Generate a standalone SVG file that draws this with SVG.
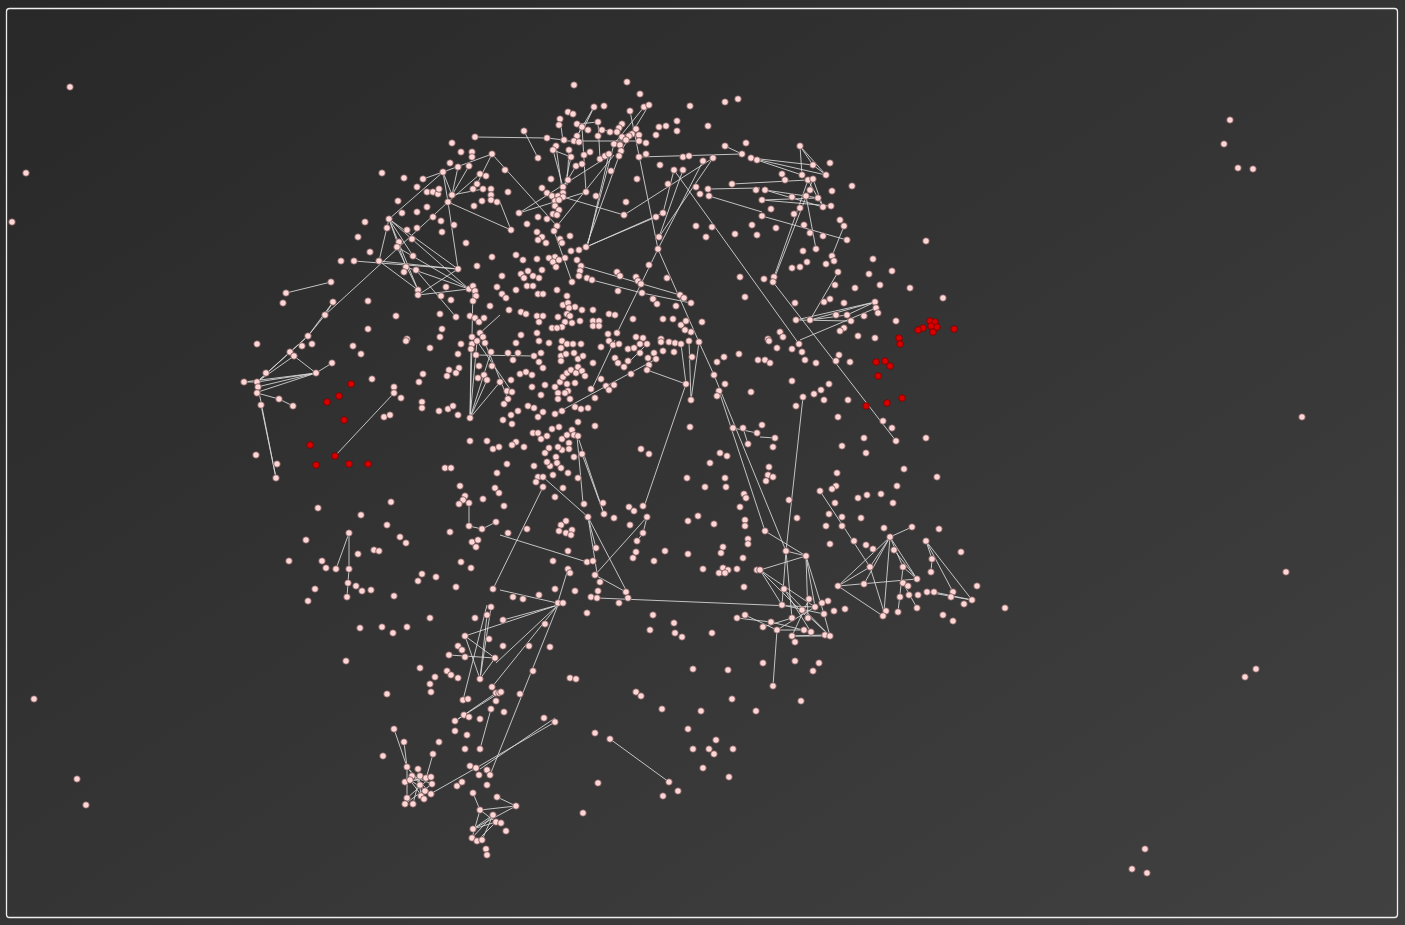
<svg xmlns="http://www.w3.org/2000/svg" width="1405" height="925" viewBox="0 0 1405 925">
<defs>
<linearGradient id="bg" x1="0" y1="0" x2="1" y2="1">
<stop offset="0" stop-color="#282828"/>
<stop offset="1" stop-color="#414141"/>
</linearGradient>
<style>
#nodes circle{r:3.3px;fill:#ffd6d6;stroke:#6b4b4b;stroke-width:0.8}
#nodes .r circle{fill:#d60000;stroke:#7a0000}
#edges line{stroke:#dcdcdc;stroke-width:1;stroke-opacity:0.85}
</style>
</defs>
<rect x="0" y="0" width="1405" height="925" fill="url(#bg)"/>
<rect x="6.5" y="8.5" width="1391" height="909" rx="3" fill="none" stroke="#eeeeee" stroke-width="1.3"/>
<g id="edges">
<line x1="475" y1="137" x2="547" y2="138"/><line x1="547" y1="138" x2="564" y2="140"/><line x1="563" y1="141" x2="640" y2="141"/>
<line x1="492" y1="154" x2="443" y2="172"/><line x1="492" y1="154" x2="477" y2="184"/><line x1="443" y1="172" x2="423" y2="179"/>
<line x1="443" y1="172" x2="389" y2="219"/><line x1="443" y1="172" x2="452" y2="195"/><line x1="443" y1="172" x2="448" y2="202"/>
<line x1="458" y1="167" x2="452" y2="195"/><line x1="469" y1="166" x2="452" y2="195"/><line x1="452" y1="195" x2="483" y2="189"/>
<line x1="448" y1="202" x2="480" y2="174"/><line x1="448" y1="202" x2="511" y2="230"/><line x1="448" y1="202" x2="458" y2="269"/>
<line x1="448" y1="202" x2="325" y2="315"/><line x1="325" y1="315" x2="308" y2="336"/><line x1="333" y1="302" x2="325" y2="315"/>
<line x1="333" y1="302" x2="308" y2="336"/><line x1="286" y1="293" x2="331" y2="282"/><line x1="389" y1="219" x2="458" y2="269"/>
<line x1="389" y1="219" x2="469" y2="289"/><line x1="389" y1="219" x2="418" y2="290"/><line x1="389" y1="219" x2="379" y2="261"/>
<line x1="389" y1="219" x2="406" y2="267"/><line x1="389" y1="219" x2="413" y2="256"/><line x1="379" y1="261" x2="458" y2="269"/>
<line x1="354" y1="261" x2="458" y2="269"/><line x1="379" y1="261" x2="418" y2="290"/><line x1="418" y1="295" x2="469" y2="289"/>
<line x1="458" y1="269" x2="418" y2="295"/><line x1="406" y1="267" x2="469" y2="289"/><line x1="397" y1="247" x2="469" y2="289"/>
<line x1="397" y1="247" x2="418" y2="290"/><line x1="416" y1="270" x2="456" y2="317"/><line x1="473" y1="286" x2="472" y2="337"/>
<line x1="480" y1="333" x2="500" y2="315"/><line x1="492" y1="154" x2="557" y2="226"/>
<line x1="294" y1="356" x2="316" y2="373"/><line x1="316" y1="373" x2="332" y2="363"/><line x1="257" y1="382" x2="294" y2="356"/>
<line x1="257" y1="382" x2="290" y2="352"/><line x1="244" y1="382" x2="316" y2="373"/><line x1="257" y1="387" x2="316" y2="373"/>
<line x1="258" y1="392" x2="316" y2="373"/><line x1="257" y1="382" x2="316" y2="373"/><line x1="257" y1="393" x2="279" y2="399"/>
<line x1="279" y1="399" x2="293" y2="406"/><line x1="258" y1="387" x2="276" y2="478"/><line x1="261" y1="405" x2="276" y2="478"/>
<line x1="244" y1="382" x2="257" y2="382"/><line x1="308" y1="336" x2="290" y2="352"/><line x1="308" y1="336" x2="257" y2="382"/>
<line x1="394" y1="393" x2="335" y2="456"/>
<line x1="471" y1="349" x2="470" y2="418"/><line x1="472" y1="344" x2="470" y2="418"/><line x1="477" y1="341" x2="470" y2="418"/>
<line x1="470" y1="418" x2="500" y2="382"/><line x1="470" y1="418" x2="491" y2="352"/><line x1="470" y1="418" x2="487" y2="380"/>
<line x1="477" y1="341" x2="512" y2="392"/><line x1="485" y1="343" x2="508" y2="399"/><line x1="476" y1="355" x2="534" y2="356"/>
<line x1="469" y1="526" x2="469" y2="503"/><line x1="469" y1="526" x2="482" y2="529"/><line x1="482" y1="529" x2="496" y2="522"/>
<line x1="349" y1="533" x2="336" y2="569"/><line x1="349" y1="533" x2="349" y2="569"/><line x1="349" y1="569" x2="348" y2="583"/>
<line x1="348" y1="583" x2="347" y2="597"/>
<line x1="524" y1="131" x2="538" y2="158"/><line x1="594" y1="107" x2="583" y2="130"/><line x1="577" y1="124" x2="598" y2="122"/>
<line x1="582" y1="127" x2="586" y2="192"/><line x1="553" y1="150" x2="571" y2="157"/><line x1="553" y1="150" x2="563" y2="187"/>
<line x1="556" y1="146" x2="563" y2="197"/><line x1="569" y1="150" x2="567" y2="185"/><line x1="571" y1="157" x2="563" y2="193"/>
<line x1="576" y1="166" x2="558" y2="196"/><line x1="598" y1="122" x2="600" y2="159"/><line x1="644" y1="107" x2="614" y2="144"/>
<line x1="649" y1="105" x2="621" y2="151"/><line x1="619" y1="156" x2="586" y2="247"/><line x1="614" y1="144" x2="588" y2="243"/>
<line x1="609" y1="154" x2="587" y2="248"/><line x1="614" y1="155" x2="557" y2="226"/><line x1="612" y1="154" x2="519" y2="213"/>
<line x1="630" y1="111" x2="658" y2="249"/><line x1="658" y1="249" x2="699" y2="342"/><line x1="658" y1="249" x2="617" y2="333"/>
<line x1="639" y1="157" x2="742" y2="154"/><line x1="725" y1="146" x2="742" y2="154"/><line x1="713" y1="158" x2="659" y2="237"/>
<line x1="703" y1="161" x2="658" y2="249"/><line x1="624" y1="215" x2="713" y2="158"/><line x1="674" y1="170" x2="663" y2="213"/>
<line x1="683" y1="170" x2="659" y2="237"/><line x1="674" y1="170" x2="799" y2="344"/><line x1="708" y1="189" x2="760" y2="188"/>
<line x1="709" y1="196" x2="762" y2="212"/><line x1="586" y1="247" x2="656" y2="217"/><line x1="586" y1="247" x2="663" y2="213"/>
<line x1="500" y1="202" x2="511" y2="230"/><line x1="519" y1="213" x2="586" y2="192"/><line x1="563" y1="197" x2="624" y2="215"/>
<line x1="581" y1="266" x2="680" y2="295"/><line x1="592" y1="280" x2="642" y2="293"/><line x1="642" y1="293" x2="691" y2="303"/>
<line x1="572" y1="282" x2="554" y2="231"/><line x1="594" y1="107" x2="577" y2="136"/><line x1="560" y1="119" x2="563" y2="141"/>
<line x1="582" y1="127" x2="577" y2="136"/><line x1="602" y1="130" x2="617" y2="132"/><line x1="636" y1="129" x2="622" y2="137"/>
<line x1="800" y1="146" x2="802" y2="175"/><line x1="800" y1="146" x2="826" y2="175"/><line x1="800" y1="146" x2="813" y2="165"/>
<line x1="813" y1="165" x2="826" y2="175"/><line x1="751" y1="158" x2="813" y2="165"/><line x1="751" y1="158" x2="826" y2="175"/>
<line x1="757" y1="160" x2="802" y2="175"/><line x1="732" y1="184" x2="808" y2="180"/><line x1="765" y1="190" x2="806" y2="196"/>
<line x1="765" y1="190" x2="823" y2="207"/><line x1="762" y1="200" x2="818" y2="198"/><line x1="762" y1="200" x2="831" y2="206"/>
<line x1="808" y1="180" x2="823" y2="207"/><line x1="813" y1="179" x2="823" y2="207"/><line x1="806" y1="196" x2="818" y2="198"/>
<line x1="808" y1="180" x2="774" y2="277"/><line x1="813" y1="179" x2="773" y2="282"/><line x1="806" y1="196" x2="816" y2="249"/>
<line x1="762" y1="216" x2="847" y2="240"/><line x1="844" y1="226" x2="832" y2="256"/><line x1="838" y1="272" x2="810" y2="320"/>
<line x1="875" y1="302" x2="796" y2="320"/><line x1="875" y1="302" x2="810" y2="320"/><line x1="875" y1="302" x2="847" y2="315"/>
<line x1="796" y1="320" x2="851" y2="321"/><line x1="810" y1="320" x2="847" y2="315"/><line x1="876" y1="308" x2="800" y2="340"/>
<line x1="773" y1="282" x2="896" y2="441"/>
<line x1="699" y1="342" x2="691" y2="400"/><line x1="689" y1="341" x2="691" y2="400"/><line x1="686" y1="384" x2="644" y2="507"/>
<line x1="647" y1="370" x2="686" y2="384"/><line x1="681" y1="344" x2="686" y2="384"/><line x1="699" y1="342" x2="714" y2="375"/>
<line x1="714" y1="375" x2="786" y2="551"/><line x1="719" y1="391" x2="765" y2="531"/><line x1="733" y1="428" x2="757" y2="433"/>
<line x1="743" y1="428" x2="748" y2="444"/><line x1="615" y1="340" x2="592" y2="389"/><line x1="656" y1="359" x2="555" y2="414"/>
<line x1="647" y1="344" x2="624" y2="367"/><line x1="543" y1="477" x2="588" y2="517"/><line x1="588" y1="517" x2="596" y2="548"/>
<line x1="577" y1="436" x2="583" y2="503"/><line x1="579" y1="440" x2="604" y2="514"/><line x1="582" y1="454" x2="604" y2="514"/>
<line x1="543" y1="487" x2="493" y2="589"/><line x1="588" y1="517" x2="597" y2="573"/><line x1="588" y1="517" x2="627" y2="592"/>
<line x1="647" y1="517" x2="595" y2="575"/><line x1="595" y1="575" x2="626" y2="592"/><line x1="500" y1="535" x2="587" y2="562"/>
<line x1="568" y1="569" x2="557" y2="605"/><line x1="500" y1="590" x2="557" y2="603"/><line x1="597" y1="598" x2="815" y2="607"/>
<line x1="637" y1="541" x2="643" y2="533"/><line x1="643" y1="533" x2="647" y2="517"/>
<line x1="803" y1="397" x2="786" y2="551"/><line x1="820" y1="491" x2="870" y2="567"/><line x1="890" y1="537" x2="912" y2="527"/>
<line x1="890" y1="537" x2="838" y2="586"/><line x1="890" y1="537" x2="864" y2="584"/><line x1="890" y1="537" x2="870" y2="567"/>
<line x1="890" y1="537" x2="917" y2="579"/><line x1="890" y1="537" x2="903" y2="567"/><line x1="890" y1="537" x2="884" y2="612"/>
<line x1="838" y1="586" x2="917" y2="579"/><line x1="838" y1="586" x2="870" y2="567"/><line x1="838" y1="586" x2="883" y2="616"/>
<line x1="903" y1="567" x2="917" y2="579"/><line x1="894" y1="550" x2="917" y2="579"/><line x1="926" y1="541" x2="932" y2="559"/>
<line x1="932" y1="559" x2="931" y2="572"/><line x1="926" y1="541" x2="972" y2="600"/><line x1="926" y1="541" x2="953" y2="592"/>
<line x1="927" y1="592" x2="972" y2="600"/><line x1="934" y1="592" x2="972" y2="600"/><line x1="765" y1="531" x2="806" y2="556"/>
<line x1="786" y1="551" x2="806" y2="556"/><line x1="760" y1="437" x2="775" y2="438"/><line x1="903" y1="583" x2="917" y2="608"/>
<line x1="870" y1="567" x2="884" y2="612"/><line x1="903" y1="567" x2="898" y2="612"/>
<line x1="760" y1="570" x2="806" y2="556"/><line x1="760" y1="570" x2="782" y2="605"/><line x1="760" y1="570" x2="808" y2="618"/>
<line x1="760" y1="570" x2="815" y2="607"/><line x1="806" y1="556" x2="815" y2="607"/><line x1="806" y1="556" x2="808" y2="618"/>
<line x1="806" y1="556" x2="824" y2="614"/><line x1="786" y1="551" x2="792" y2="618"/><line x1="786" y1="551" x2="782" y2="605"/>
<line x1="782" y1="605" x2="824" y2="614"/><line x1="771" y1="622" x2="811" y2="632"/><line x1="763" y1="627" x2="792" y2="618"/>
<line x1="777" y1="630" x2="773" y2="686"/><line x1="777" y1="630" x2="804" y2="630"/><line x1="792" y1="636" x2="825" y2="635"/>
<line x1="792" y1="636" x2="830" y2="636"/><line x1="802" y1="610" x2="830" y2="636"/><line x1="815" y1="607" x2="777" y2="630"/>
<line x1="784" y1="589" x2="830" y2="636"/><line x1="784" y1="589" x2="811" y2="632"/><line x1="809" y1="599" x2="792" y2="636"/>
<line x1="737" y1="618" x2="771" y2="622"/><line x1="745" y1="615" x2="777" y2="630"/><line x1="824" y1="614" x2="830" y2="636"/>
<line x1="394" y1="729" x2="407" y2="767"/><line x1="404" y1="742" x2="407" y2="767"/><line x1="433" y1="754" x2="427" y2="775"/>
<line x1="432" y1="793" x2="476" y2="768"/><line x1="476" y1="768" x2="555" y2="722"/><line x1="480" y1="769" x2="555" y2="718"/>
<line x1="558" y1="605" x2="490" y2="775"/><line x1="465" y1="636" x2="480" y2="679"/><line x1="465" y1="636" x2="495" y2="658"/>
<line x1="465" y1="636" x2="558" y2="605"/><line x1="449" y1="655" x2="495" y2="658"/><line x1="495" y1="658" x2="480" y2="679"/>
<line x1="487" y1="615" x2="480" y2="679"/><line x1="491" y1="607" x2="480" y2="679"/><line x1="558" y1="605" x2="496" y2="663"/>
<line x1="558" y1="605" x2="492" y2="687"/><line x1="455" y1="721" x2="499" y2="693"/><line x1="458" y1="719" x2="496" y2="693"/>
<line x1="463" y1="700" x2="487" y2="605"/><line x1="491" y1="709" x2="480" y2="749"/><line x1="473" y1="793" x2="480" y2="810"/>
<line x1="480" y1="810" x2="472" y2="838"/><line x1="480" y1="810" x2="516" y2="806"/><line x1="473" y1="829" x2="516" y2="806"/>
<line x1="480" y1="810" x2="496" y2="822"/><line x1="493" y1="815" x2="472" y2="838"/><line x1="496" y1="822" x2="477" y2="841"/>
<line x1="473" y1="829" x2="493" y2="815"/><line x1="482" y1="840" x2="493" y2="815"/><line x1="473" y1="829" x2="496" y2="822"/>
<line x1="516" y1="806" x2="497" y2="797"/><line x1="558" y1="605" x2="503" y2="620"/><line x1="610" y1="739" x2="669" y2="782"/>
<line x1="407" y1="767" x2="431" y2="794"/><line x1="407" y1="767" x2="425" y2="791"/><line x1="412" y1="776" x2="432" y2="784"/>
<line x1="405" y1="782" x2="431" y2="777"/><line x1="410" y1="780" x2="424" y2="799"/><line x1="407" y1="767" x2="407" y2="798"/>
<line x1="405" y1="782" x2="426" y2="778"/><line x1="407" y1="798" x2="431" y2="777"/><line x1="413" y1="804" x2="420" y2="776"/>
<line x1="405" y1="804" x2="432" y2="784"/><line x1="418" y1="769" x2="421" y2="796"/><line x1="410" y1="780" x2="431" y2="794"/>
</g>
<g id="nodes">
<g id="n1"><circle cx="70" cy="87"/></g><g id="n2"><circle cx="26" cy="173"/></g><g id="n3"><circle cx="12" cy="222"/></g>
<g id="n4"><circle cx="34" cy="699"/></g><g id="n5"><circle cx="77" cy="779"/></g><g id="n6"><circle cx="86" cy="805"/></g>
<g id="n7"><circle cx="1230" cy="120"/></g><g id="n8"><circle cx="1224" cy="144"/></g><g id="n9"><circle cx="1238" cy="168"/></g>
<g id="n10"><circle cx="1253" cy="169"/></g><g id="n11"><circle cx="1302" cy="417"/></g><g id="n12"><circle cx="1286" cy="572"/></g>
<g id="n13"><circle cx="1256" cy="669"/></g><g id="n14"><circle cx="1245" cy="677"/></g><g id="n15"><circle cx="1145" cy="849"/></g>
<g id="n16"><circle cx="1132" cy="869"/></g><g id="n17"><circle cx="1147" cy="873"/></g>
<g id="n18"><circle cx="475" cy="137"/></g><g id="n19"><circle cx="452" cy="143"/></g><g id="n20"><circle cx="492" cy="154"/></g>
<g id="n21"><circle cx="461" cy="152"/></g><g id="n22"><circle cx="472" cy="152"/></g><g id="n23"><circle cx="472" cy="157"/></g>
<g id="n24"><circle cx="450" cy="163"/></g><g id="n25"><circle cx="469" cy="166"/></g><g id="n26"><circle cx="458" cy="167"/></g>
<g id="n27"><circle cx="382" cy="173"/></g><g id="n28"><circle cx="404" cy="178"/></g><g id="n29"><circle cx="423" cy="179"/></g>
<g id="n30"><circle cx="443" cy="172"/></g><g id="n31"><circle cx="480" cy="174"/></g><g id="n32"><circle cx="486" cy="176"/></g>
<g id="n33"><circle cx="477" cy="184"/></g><g id="n34"><circle cx="473" cy="189"/></g><g id="n35"><circle cx="483" cy="189"/></g>
<g id="n36"><circle cx="491" cy="189"/></g><g id="n37"><circle cx="491" cy="195"/></g><g id="n38"><circle cx="491" cy="200"/></g>
<g id="n39"><circle cx="497" cy="202"/></g><g id="n40"><circle cx="482" cy="201"/></g><g id="n41"><circle cx="474" cy="206"/></g>
<g id="n42"><circle cx="417" cy="187"/></g><g id="n43"><circle cx="427" cy="192"/></g><g id="n44"><circle cx="433" cy="192"/></g>
<g id="n45"><circle cx="438" cy="194"/></g><g id="n46"><circle cx="439" cy="189"/></g><g id="n47"><circle cx="452" cy="195"/></g>
<g id="n48"><circle cx="448" cy="202"/></g><g id="n49"><circle cx="398" cy="201"/></g><g id="n50"><circle cx="402" cy="213"/></g>
<g id="n51"><circle cx="417" cy="212"/></g><g id="n52"><circle cx="427" cy="207"/></g><g id="n53"><circle cx="433" cy="217"/></g>
<g id="n54"><circle cx="441" cy="221"/></g><g id="n55"><circle cx="442" cy="232"/></g><g id="n56"><circle cx="454" cy="225"/></g>
<g id="n57"><circle cx="389" cy="219"/></g><g id="n58"><circle cx="387" cy="228"/></g><g id="n59"><circle cx="365" cy="222"/></g>
<g id="n60"><circle cx="358" cy="237"/></g><g id="n61"><circle cx="407" cy="230"/></g><g id="n62"><circle cx="417" cy="228"/></g>
<g id="n63"><circle cx="412" cy="239"/></g><g id="n64"><circle cx="399" cy="242"/></g><g id="n65"><circle cx="397" cy="247"/></g>
<g id="n66"><circle cx="370" cy="252"/></g><g id="n67"><circle cx="413" cy="256"/></g><g id="n68"><circle cx="466" cy="243"/></g>
<g id="n69"><circle cx="492" cy="257"/></g><g id="n70"><circle cx="477" cy="266"/></g><g id="n71"><circle cx="341" cy="261"/></g>
<g id="n72"><circle cx="354" cy="261"/></g><g id="n73"><circle cx="379" cy="261"/></g><g id="n74"><circle cx="406" cy="267"/></g>
<g id="n75"><circle cx="404" cy="272"/></g><g id="n76"><circle cx="416" cy="270"/></g><g id="n77"><circle cx="458" cy="269"/></g>
<g id="n78"><circle cx="469" cy="289"/></g><g id="n79"><circle cx="473" cy="286"/></g><g id="n80"><circle cx="475" cy="291"/></g>
<g id="n81"><circle cx="476" cy="296"/></g><g id="n82"><circle cx="473" cy="301"/></g><g id="n83"><circle cx="446" cy="287"/></g>
<g id="n84"><circle cx="418" cy="290"/></g><g id="n85"><circle cx="418" cy="295"/></g><g id="n86"><circle cx="441" cy="296"/></g>
<g id="n87"><circle cx="451" cy="300"/></g><g id="n88"><circle cx="497" cy="287"/></g><g id="n89"><circle cx="331" cy="282"/></g>
<g id="n90"><circle cx="286" cy="293"/></g><g id="n91"><circle cx="283" cy="303"/></g><g id="n92"><circle cx="333" cy="302"/></g>
<g id="n93"><circle cx="325" cy="315"/></g><g id="n94"><circle cx="308" cy="336"/></g><g id="n95"><circle cx="368" cy="301"/></g>
<g id="n96"><circle cx="396" cy="316"/></g><g id="n97"><circle cx="368" cy="329"/></g><g id="n98"><circle cx="440" cy="314"/></g>
<g id="n99"><circle cx="456" cy="317"/></g><g id="n100"><circle cx="470" cy="316"/></g><g id="n101"><circle cx="475" cy="318"/></g>
<g id="n102"><circle cx="479" cy="322"/></g><g id="n103"><circle cx="484" cy="318"/></g><g id="n104"><circle cx="490" cy="306"/></g>
<g id="n105"><circle cx="480" cy="333"/></g><g id="n106"><circle cx="483" cy="337"/></g><g id="n107"><circle cx="472" cy="337"/></g>
<g id="n108"><circle cx="442" cy="329"/></g><g id="n109"><circle cx="440" cy="337"/></g><g id="n110"><circle cx="407" cy="339"/></g>
<g id="n111"><circle cx="574" cy="85"/></g><g id="n112"><circle cx="627" cy="82"/></g><g id="n113"><circle cx="640" cy="94"/></g>
<g id="n114"><circle cx="594" cy="107"/></g><g id="n115"><circle cx="604" cy="106"/></g><g id="n116"><circle cx="630" cy="111"/></g>
<g id="n117"><circle cx="644" cy="107"/></g><g id="n118"><circle cx="649" cy="105"/></g><g id="n119"><circle cx="690" cy="106"/></g>
<g id="n120"><circle cx="725" cy="102"/></g><g id="n121"><circle cx="738" cy="99"/></g><g id="n122"><circle cx="568" cy="112"/></g>
<g id="n123"><circle cx="573" cy="114"/></g><g id="n124"><circle cx="560" cy="119"/></g><g id="n125"><circle cx="559" cy="125"/></g>
<g id="n126"><circle cx="577" cy="124"/></g><g id="n127"><circle cx="582" cy="127"/></g><g id="n128"><circle cx="598" cy="122"/></g>
<g id="n129"><circle cx="622" cy="124"/></g><g id="n130"><circle cx="619" cy="128"/></g><g id="n131"><circle cx="636" cy="129"/></g>
<g id="n132"><circle cx="632" cy="134"/></g><g id="n133"><circle cx="524" cy="131"/></g><g id="n134"><circle cx="547" cy="138"/></g>
<g id="n135"><circle cx="564" cy="140"/></g><g id="n136"><circle cx="577" cy="136"/></g><g id="n137"><circle cx="574" cy="141"/></g>
<g id="n138"><circle cx="579" cy="142"/></g><g id="n139"><circle cx="588" cy="130"/></g><g id="n140"><circle cx="602" cy="130"/></g>
<g id="n141"><circle cx="598" cy="136"/></g><g id="n142"><circle cx="610" cy="132"/></g><g id="n143"><circle cx="617" cy="132"/></g>
<g id="n144"><circle cx="622" cy="137"/></g><g id="n145"><circle cx="629" cy="136"/></g><g id="n146"><circle cx="639" cy="135"/></g>
<g id="n147"><circle cx="639" cy="141"/></g><g id="n148"><circle cx="646" cy="143"/></g><g id="n149"><circle cx="659" cy="127"/></g>
<g id="n150"><circle cx="666" cy="126"/></g><g id="n151"><circle cx="677" cy="121"/></g><g id="n152"><circle cx="677" cy="131"/></g>
<g id="n153"><circle cx="656" cy="135"/></g><g id="n154"><circle cx="708" cy="126"/></g><g id="n155"><circle cx="556" cy="146"/></g>
<g id="n156"><circle cx="553" cy="150"/></g><g id="n157"><circle cx="569" cy="150"/></g><g id="n158"><circle cx="571" cy="157"/></g>
<g id="n159"><circle cx="584" cy="155"/></g><g id="n160"><circle cx="590" cy="152"/></g><g id="n161"><circle cx="600" cy="159"/></g>
<g id="n162"><circle cx="605" cy="156"/></g><g id="n163"><circle cx="609" cy="154"/></g><g id="n164"><circle cx="614" cy="144"/></g>
<g id="n165"><circle cx="620" cy="145"/></g><g id="n166"><circle cx="621" cy="151"/></g><g id="n167"><circle cx="626" cy="140"/></g>
<g id="n168"><circle cx="619" cy="156"/></g><g id="n169"><circle cx="639" cy="157"/></g><g id="n170"><circle cx="646" cy="154"/></g>
<g id="n171"><circle cx="538" cy="158"/></g><g id="n172"><circle cx="576" cy="166"/></g><g id="n173"><circle cx="582" cy="164"/></g>
<g id="n174"><circle cx="611" cy="171"/></g><g id="n175"><circle cx="725" cy="146"/></g><g id="n176"><circle cx="746" cy="143"/></g>
<g id="n177"><circle cx="742" cy="154"/></g><g id="n178"><circle cx="751" cy="158"/></g><g id="n179"><circle cx="757" cy="160"/></g>
<g id="n180"><circle cx="683" cy="157"/></g><g id="n181"><circle cx="689" cy="156"/></g><g id="n182"><circle cx="703" cy="161"/></g>
<g id="n183"><circle cx="713" cy="158"/></g><g id="n184"><circle cx="660" cy="165"/></g><g id="n185"><circle cx="674" cy="170"/></g>
<g id="n186"><circle cx="683" cy="170"/></g><g id="n187"><circle cx="505" cy="170"/></g><g id="n188"><circle cx="637" cy="179"/></g>
<g id="n189"><circle cx="568" cy="180"/></g><g id="n190"><circle cx="551" cy="179"/></g><g id="n191"><circle cx="668" cy="184"/></g>
<g id="n192"><circle cx="732" cy="184"/></g><g id="n193"><circle cx="756" cy="190"/></g><g id="n194"><circle cx="696" cy="187"/></g>
<g id="n195"><circle cx="708" cy="189"/></g><g id="n196"><circle cx="700" cy="194"/></g><g id="n197"><circle cx="709" cy="196"/></g>
<g id="n198"><circle cx="542" cy="188"/></g><g id="n199"><circle cx="563" cy="187"/></g><g id="n200"><circle cx="563" cy="193"/></g>
<g id="n201"><circle cx="547" cy="193"/></g><g id="n202"><circle cx="552" cy="196"/></g><g id="n203"><circle cx="558" cy="196"/></g>
<g id="n204"><circle cx="563" cy="197"/></g><g id="n205"><circle cx="586" cy="192"/></g><g id="n206"><circle cx="596" cy="196"/></g>
<g id="n207"><circle cx="508" cy="192"/></g><g id="n208"><circle cx="555" cy="201"/></g><g id="n209"><circle cx="559" cy="200"/></g>
<g id="n210"><circle cx="555" cy="206"/></g><g id="n211"><circle cx="559" cy="210"/></g><g id="n212"><circle cx="553" cy="214"/></g>
<g id="n213"><circle cx="557" cy="215"/></g><g id="n214"><circle cx="519" cy="213"/></g><g id="n215"><circle cx="527" cy="224"/></g>
<g id="n216"><circle cx="538" cy="217"/></g><g id="n217"><circle cx="547" cy="219"/></g><g id="n218"><circle cx="557" cy="226"/></g>
<g id="n219"><circle cx="554" cy="231"/></g><g id="n220"><circle cx="537" cy="232"/></g><g id="n221"><circle cx="542" cy="237"/></g>
<g id="n222"><circle cx="538" cy="240"/></g><g id="n223"><circle cx="546" cy="243"/></g><g id="n224"><circle cx="560" cy="239"/></g>
<g id="n225"><circle cx="562" cy="243"/></g><g id="n226"><circle cx="570" cy="236"/></g><g id="n227"><circle cx="511" cy="230"/></g>
<g id="n228"><circle cx="624" cy="215"/></g><g id="n229"><circle cx="626" cy="202"/></g><g id="n230"><circle cx="656" cy="217"/></g>
<g id="n231"><circle cx="663" cy="213"/></g><g id="n232"><circle cx="659" cy="237"/></g><g id="n233"><circle cx="658" cy="249"/></g>
<g id="n234"><circle cx="696" cy="226"/></g><g id="n235"><circle cx="712" cy="227"/></g><g id="n236"><circle cx="706" cy="237"/></g>
<g id="n237"><circle cx="735" cy="234"/></g><g id="n238"><circle cx="752" cy="225"/></g><g id="n239"><circle cx="757" cy="235"/></g>
<g id="n240"><circle cx="740" cy="277"/></g><g id="n241"><circle cx="745" cy="297"/></g><g id="n242"><circle cx="586" cy="247"/></g>
<g id="n243"><circle cx="579" cy="250"/></g><g id="n244"><circle cx="571" cy="251"/></g><g id="n245"><circle cx="577" cy="260"/></g>
<g id="n246"><circle cx="565" cy="258"/></g><g id="n247"><circle cx="555" cy="257"/></g><g id="n248"><circle cx="549" cy="258"/></g>
<g id="n249"><circle cx="553" cy="262"/></g><g id="n250"><circle cx="559" cy="260"/></g><g id="n251"><circle cx="556" cy="267"/></g>
<g id="n252"><circle cx="516" cy="255"/></g><g id="n253"><circle cx="523" cy="260"/></g><g id="n254"><circle cx="537" cy="259"/></g>
<g id="n255"><circle cx="581" cy="266"/></g><g id="n256"><circle cx="580" cy="271"/></g><g id="n257"><circle cx="579" cy="276"/></g>
<g id="n258"><circle cx="587" cy="278"/></g><g id="n259"><circle cx="592" cy="280"/></g><g id="n260"><circle cx="572" cy="282"/></g>
<g id="n261"><circle cx="617" cy="272"/></g><g id="n262"><circle cx="620" cy="276"/></g><g id="n263"><circle cx="636" cy="277"/></g>
<g id="n264"><circle cx="638" cy="281"/></g><g id="n265"><circle cx="641" cy="284"/></g><g id="n266"><circle cx="649" cy="265"/></g>
<g id="n267"><circle cx="667" cy="278"/></g><g id="n268"><circle cx="642" cy="293"/></g><g id="n269"><circle cx="618" cy="291"/></g>
<g id="n270"><circle cx="680" cy="295"/></g><g id="n271"><circle cx="684" cy="298"/></g><g id="n272"><circle cx="691" cy="303"/></g>
<g id="n273"><circle cx="653" cy="299"/></g><g id="n274"><circle cx="657" cy="304"/></g><g id="n275"><circle cx="676" cy="306"/></g>
<g id="n276"><circle cx="502" cy="276"/></g><g id="n277"><circle cx="521" cy="274"/></g><g id="n278"><circle cx="528" cy="271"/></g>
<g id="n279"><circle cx="524" cy="278"/></g><g id="n280"><circle cx="533" cy="276"/></g><g id="n281"><circle cx="539" cy="278"/></g>
<g id="n282"><circle cx="542" cy="270"/></g><g id="n283"><circle cx="527" cy="286"/></g><g id="n284"><circle cx="533" cy="286"/></g>
<g id="n285"><circle cx="516" cy="290"/></g><g id="n286"><circle cx="538" cy="294"/></g><g id="n287"><circle cx="543" cy="294"/></g>
<g id="n288"><circle cx="557" cy="290"/></g><g id="n289"><circle cx="567" cy="296"/></g><g id="n290"><circle cx="502" cy="294"/></g>
<g id="n291"><circle cx="506" cy="298"/></g><g id="n292"><circle cx="509" cy="310"/></g><g id="n293"><circle cx="521" cy="312"/></g>
<g id="n294"><circle cx="526" cy="314"/></g><g id="n295"><circle cx="563" cy="305"/></g><g id="n296"><circle cx="568" cy="303"/></g>
<g id="n297"><circle cx="575" cy="307"/></g><g id="n298"><circle cx="569" cy="308"/></g><g id="n299"><circle cx="582" cy="310"/></g>
<g id="n300"><circle cx="593" cy="310"/></g><g id="n301"><circle cx="567" cy="314"/></g><g id="n302"><circle cx="570" cy="316"/></g>
<g id="n303"><circle cx="558" cy="317"/></g><g id="n304"><circle cx="537" cy="316"/></g><g id="n305"><circle cx="543" cy="316"/></g>
<g id="n306"><circle cx="539" cy="322"/></g><g id="n307"><circle cx="565" cy="322"/></g><g id="n308"><circle cx="572" cy="323"/></g>
<g id="n309"><circle cx="580" cy="321"/></g><g id="n310"><circle cx="562" cy="327"/></g><g id="n311"><circle cx="552" cy="328"/></g>
<g id="n312"><circle cx="557" cy="328"/></g><g id="n313"><circle cx="537" cy="333"/></g><g id="n314"><circle cx="609" cy="314"/></g>
<g id="n315"><circle cx="615" cy="315"/></g><g id="n316"><circle cx="593" cy="321"/></g><g id="n317"><circle cx="599" cy="321"/></g>
<g id="n318"><circle cx="593" cy="326"/></g><g id="n319"><circle cx="599" cy="326"/></g><g id="n320"><circle cx="633" cy="319"/></g>
<g id="n321"><circle cx="663" cy="319"/></g><g id="n322"><circle cx="673" cy="319"/></g><g id="n323"><circle cx="681" cy="325"/></g>
<g id="n324"><circle cx="686" cy="321"/></g><g id="n325"><circle cx="702" cy="322"/></g><g id="n326"><circle cx="691" cy="332"/></g>
<g id="n327"><circle cx="685" cy="330"/></g><g id="n328"><circle cx="521" cy="335"/></g><g id="n329"><circle cx="608" cy="334"/></g>
<g id="n330"><circle cx="617" cy="333"/></g><g id="n331"><circle cx="636" cy="337"/></g><g id="n332"><circle cx="643" cy="338"/></g>
<g id="n333"><circle cx="661" cy="339"/></g>
<g id="n334"><circle cx="800" cy="146"/></g><g id="n335"><circle cx="830" cy="163"/></g><g id="n336"><circle cx="813" cy="165"/></g>
<g id="n337"><circle cx="802" cy="175"/></g><g id="n338"><circle cx="826" cy="175"/></g><g id="n339"><circle cx="782" cy="174"/></g>
<g id="n340"><circle cx="785" cy="180"/></g><g id="n341"><circle cx="808" cy="180"/></g><g id="n342"><circle cx="813" cy="179"/></g>
<g id="n343"><circle cx="852" cy="186"/></g><g id="n344"><circle cx="832" cy="191"/></g><g id="n345"><circle cx="810" cy="190"/></g>
<g id="n346"><circle cx="765" cy="190"/></g><g id="n347"><circle cx="792" cy="197"/></g><g id="n348"><circle cx="806" cy="196"/></g>
<g id="n349"><circle cx="818" cy="198"/></g><g id="n350"><circle cx="762" cy="200"/></g><g id="n351"><circle cx="823" cy="207"/></g>
<g id="n352"><circle cx="831" cy="206"/></g><g id="n353"><circle cx="800" cy="208"/></g><g id="n354"><circle cx="771" cy="209"/></g>
<g id="n355"><circle cx="794" cy="214"/></g><g id="n356"><circle cx="762" cy="216"/></g><g id="n357"><circle cx="840" cy="220"/></g>
<g id="n358"><circle cx="844" cy="226"/></g><g id="n359"><circle cx="804" cy="225"/></g><g id="n360"><circle cx="776" cy="228"/></g>
<g id="n361"><circle cx="810" cy="233"/></g><g id="n362"><circle cx="823" cy="236"/></g><g id="n363"><circle cx="847" cy="240"/></g>
<g id="n364"><circle cx="926" cy="241"/></g><g id="n365"><circle cx="803" cy="251"/></g><g id="n366"><circle cx="816" cy="249"/></g>
<g id="n367"><circle cx="832" cy="256"/></g><g id="n368"><circle cx="834" cy="261"/></g><g id="n369"><circle cx="807" cy="262"/></g>
<g id="n370"><circle cx="800" cy="267"/></g><g id="n371"><circle cx="792" cy="268"/></g><g id="n372"><circle cx="826" cy="264"/></g>
<g id="n373"><circle cx="873" cy="259"/></g><g id="n374"><circle cx="838" cy="272"/></g><g id="n375"><circle cx="892" cy="271"/></g>
<g id="n376"><circle cx="869" cy="274"/></g><g id="n377"><circle cx="774" cy="277"/></g><g id="n378"><circle cx="764" cy="279"/></g>
<g id="n379"><circle cx="773" cy="282"/></g><g id="n380"><circle cx="835" cy="285"/></g><g id="n381"><circle cx="855" cy="288"/></g>
<g id="n382"><circle cx="880" cy="285"/></g><g id="n383"><circle cx="910" cy="288"/></g><g id="n384"><circle cx="943" cy="298"/></g>
<g id="n385"><circle cx="830" cy="299"/></g><g id="n386"><circle cx="844" cy="303"/></g><g id="n387"><circle cx="824" cy="302"/></g>
<g id="n388"><circle cx="875" cy="302"/></g><g id="n389"><circle cx="876" cy="308"/></g><g id="n390"><circle cx="878" cy="313"/></g>
<g id="n391"><circle cx="795" cy="303"/></g><g id="n392"><circle cx="836" cy="315"/></g><g id="n393"><circle cx="847" cy="315"/></g>
<g id="n394"><circle cx="864" cy="316"/></g><g id="n395"><circle cx="796" cy="320"/></g><g id="n396"><circle cx="810" cy="320"/></g>
<g id="n397"><circle cx="851" cy="321"/></g><g id="n398"><circle cx="844" cy="328"/></g><g id="n399"><circle cx="840" cy="331"/></g>
<g id="n400"><circle cx="896" cy="321"/></g><g id="n401"><circle cx="780" cy="332"/></g><g id="n402"><circle cx="783" cy="337"/></g>
<g id="n403"><circle cx="768" cy="339"/></g><g id="n404"><circle cx="858" cy="336"/></g><g id="n405"><circle cx="875" cy="338"/></g>
<g id="n406" class="r"><circle cx="930" cy="321"/></g><g id="n407" class="r"><circle cx="935" cy="322"/></g><g id="n408" class="r"><circle cx="931" cy="326"/></g>
<g id="n409" class="r"><circle cx="937" cy="327"/></g><g id="n410" class="r"><circle cx="933" cy="332"/></g><g id="n411" class="r"><circle cx="923" cy="328"/></g>
<g id="n412" class="r"><circle cx="918" cy="330"/></g><g id="n413" class="r"><circle cx="954" cy="329"/></g><g id="n414" class="r"><circle cx="899" cy="338"/></g>
<g id="n415" class="r"><circle cx="900" cy="344"/></g>
<g id="n416"><circle cx="257" cy="344"/></g><g id="n417"><circle cx="302" cy="346"/></g><g id="n418"><circle cx="312" cy="344"/></g>
<g id="n419"><circle cx="353" cy="346"/></g><g id="n420"><circle cx="361" cy="354"/></g><g id="n421"><circle cx="406" cy="341"/></g>
<g id="n422"><circle cx="430" cy="348"/></g><g id="n423"><circle cx="461" cy="344"/></g><g id="n424"><circle cx="458" cy="354"/></g>
<g id="n425"><circle cx="472" cy="344"/></g><g id="n426"><circle cx="471" cy="349"/></g><g id="n427"><circle cx="477" cy="341"/></g>
<g id="n428"><circle cx="485" cy="343"/></g><g id="n429"><circle cx="491" cy="352"/></g><g id="n430"><circle cx="476" cy="355"/></g>
<g id="n431"><circle cx="479" cy="366"/></g><g id="n432"><circle cx="492" cy="366"/></g><g id="n433"><circle cx="484" cy="375"/></g>
<g id="n434"><circle cx="487" cy="380"/></g><g id="n435"><circle cx="478" cy="378"/></g><g id="n436"><circle cx="500" cy="382"/></g>
<g id="n437"><circle cx="290" cy="352"/></g><g id="n438"><circle cx="294" cy="356"/></g><g id="n439"><circle cx="332" cy="363"/></g>
<g id="n440"><circle cx="316" cy="373"/></g><g id="n441"><circle cx="266" cy="373"/></g><g id="n442"><circle cx="244" cy="382"/></g>
<g id="n443"><circle cx="257" cy="382"/></g><g id="n444"><circle cx="258" cy="387"/></g><g id="n445"><circle cx="257" cy="393"/></g>
<g id="n446"><circle cx="261" cy="405"/></g><g id="n447"><circle cx="279" cy="399"/></g><g id="n448"><circle cx="293" cy="406"/></g>
<g id="n449"><circle cx="372" cy="379"/></g><g id="n450"><circle cx="394" cy="387"/></g><g id="n451"><circle cx="394" cy="393"/></g>
<g id="n452"><circle cx="401" cy="398"/></g><g id="n453"><circle cx="423" cy="374"/></g><g id="n454"><circle cx="419" cy="382"/></g>
<g id="n455"><circle cx="449" cy="370"/></g><g id="n456"><circle cx="459" cy="368"/></g><g id="n457"><circle cx="456" cy="373"/></g>
<g id="n458"><circle cx="447" cy="376"/></g><g id="n459"><circle cx="422" cy="402"/></g><g id="n460"><circle cx="422" cy="408"/></g>
<g id="n461"><circle cx="439" cy="411"/></g><g id="n462"><circle cx="448" cy="409"/></g><g id="n463"><circle cx="453" cy="406"/></g>
<g id="n464"><circle cx="458" cy="415"/></g><g id="n465"><circle cx="470" cy="418"/></g><g id="n466"><circle cx="384" cy="417"/></g>
<g id="n467"><circle cx="390" cy="415"/></g>
<g id="n468" class="r"><circle cx="351" cy="384"/></g><g id="n469" class="r"><circle cx="339" cy="396"/></g><g id="n470" class="r"><circle cx="327" cy="402"/></g>
<g id="n471" class="r"><circle cx="344" cy="420"/></g><g id="n472" class="r"><circle cx="310" cy="445"/></g><g id="n473" class="r"><circle cx="335" cy="456"/></g>
<g id="n474" class="r"><circle cx="316" cy="465"/></g><g id="n475" class="r"><circle cx="349" cy="464"/></g><g id="n476" class="r"><circle cx="368" cy="464"/></g>
<g id="n477"><circle cx="256" cy="455"/></g><g id="n478"><circle cx="277" cy="464"/></g><g id="n479"><circle cx="276" cy="478"/></g>
<g id="n480"><circle cx="470" cy="441"/></g><g id="n481"><circle cx="487" cy="441"/></g><g id="n482"><circle cx="493" cy="449"/></g>
<g id="n483"><circle cx="499" cy="447"/></g><g id="n484"><circle cx="445" cy="468"/></g><g id="n485"><circle cx="451" cy="468"/></g>
<g id="n486"><circle cx="497" cy="473"/></g><g id="n487"><circle cx="460" cy="486"/></g><g id="n488"><circle cx="465" cy="496"/></g>
<g id="n489"><circle cx="463" cy="500"/></g><g id="n490"><circle cx="459" cy="504"/></g><g id="n491"><circle cx="469" cy="503"/></g>
<g id="n492"><circle cx="483" cy="499"/></g><g id="n493"><circle cx="495" cy="488"/></g><g id="n494"><circle cx="499" cy="493"/></g>
<g id="n495"><circle cx="391" cy="502"/></g><g id="n496"><circle cx="318" cy="508"/></g><g id="n497"><circle cx="361" cy="515"/></g>
<g id="n498"><circle cx="387" cy="525"/></g><g id="n499"><circle cx="469" cy="526"/></g><g id="n500"><circle cx="482" cy="529"/></g>
<g id="n501"><circle cx="496" cy="522"/></g><g id="n502"><circle cx="450" cy="532"/></g><g id="n503"><circle cx="400" cy="537"/></g>
<g id="n504"><circle cx="406" cy="543"/></g><g id="n505"><circle cx="349" cy="533"/></g><g id="n506"><circle cx="306" cy="540"/></g>
<g id="n507"><circle cx="358" cy="554"/></g><g id="n508"><circle cx="374" cy="550"/></g><g id="n509"><circle cx="379" cy="551"/></g>
<g id="n510"><circle cx="472" cy="542"/></g><g id="n511"><circle cx="478" cy="540"/></g><g id="n512"><circle cx="476" cy="547"/></g>
<g id="n513"><circle cx="289" cy="561"/></g><g id="n514"><circle cx="322" cy="561"/></g><g id="n515"><circle cx="326" cy="568"/></g>
<g id="n516"><circle cx="336" cy="569"/></g><g id="n517"><circle cx="349" cy="569"/></g><g id="n518"><circle cx="348" cy="583"/></g>
<g id="n519"><circle cx="356" cy="586"/></g><g id="n520"><circle cx="362" cy="591"/></g><g id="n521"><circle cx="371" cy="590"/></g>
<g id="n522"><circle cx="315" cy="589"/></g><g id="n523"><circle cx="308" cy="601"/></g><g id="n524"><circle cx="347" cy="597"/></g>
<g id="n525"><circle cx="394" cy="596"/></g><g id="n526"><circle cx="422" cy="574"/></g><g id="n527"><circle cx="418" cy="581"/></g>
<g id="n528"><circle cx="436" cy="577"/></g><g id="n529"><circle cx="461" cy="562"/></g><g id="n530"><circle cx="471" cy="568"/></g>
<g id="n531"><circle cx="456" cy="587"/></g><g id="n532"><circle cx="493" cy="589"/></g>
<g id="n533"><circle cx="516" cy="343"/></g><g id="n534"><circle cx="539" cy="341"/></g><g id="n535"><circle cx="549" cy="343"/></g>
<g id="n536"><circle cx="562" cy="341"/></g><g id="n537"><circle cx="567" cy="344"/></g><g id="n538"><circle cx="573" cy="344"/></g>
<g id="n539"><circle cx="581" cy="344"/></g><g id="n540"><circle cx="601" cy="347"/></g><g id="n541"><circle cx="609" cy="341"/></g>
<g id="n542"><circle cx="613" cy="345"/></g><g id="n543"><circle cx="619" cy="344"/></g><g id="n544"><circle cx="628" cy="349"/></g>
<g id="n545"><circle cx="634" cy="348"/></g><g id="n546"><circle cx="640" cy="344"/></g><g id="n547"><circle cx="647" cy="344"/></g>
<g id="n548"><circle cx="661" cy="342"/></g><g id="n549"><circle cx="669" cy="342"/></g><g id="n550"><circle cx="675" cy="343"/></g>
<g id="n551"><circle cx="681" cy="344"/></g><g id="n552"><circle cx="689" cy="341"/></g><g id="n553"><circle cx="699" cy="342"/></g>
<g id="n554"><circle cx="508" cy="353"/></g><g id="n555"><circle cx="518" cy="353"/></g><g id="n556"><circle cx="534" cy="356"/></g>
<g id="n557"><circle cx="541" cy="353"/></g><g id="n558"><circle cx="513" cy="360"/></g><g id="n559"><circle cx="539" cy="362"/></g>
<g id="n560"><circle cx="543" cy="368"/></g><g id="n561"><circle cx="561" cy="348"/></g><g id="n562"><circle cx="561" cy="356"/></g>
<g id="n563"><circle cx="566" cy="354"/></g><g id="n564"><circle cx="561" cy="361"/></g><g id="n565"><circle cx="574" cy="353"/></g>
<g id="n566"><circle cx="578" cy="359"/></g><g id="n567"><circle cx="583" cy="356"/></g><g id="n568"><circle cx="593" cy="363"/></g>
<g id="n569"><circle cx="615" cy="358"/></g><g id="n570"><circle cx="618" cy="363"/></g><g id="n571"><circle cx="628" cy="361"/></g>
<g id="n572"><circle cx="640" cy="353"/></g><g id="n573"><circle cx="648" cy="358"/></g><g id="n574"><circle cx="654" cy="353"/></g>
<g id="n575"><circle cx="656" cy="359"/></g><g id="n576"><circle cx="663" cy="351"/></g><g id="n577"><circle cx="674" cy="352"/></g>
<g id="n578"><circle cx="649" cy="365"/></g><g id="n579"><circle cx="647" cy="370"/></g><g id="n580"><circle cx="624" cy="367"/></g>
<g id="n581"><circle cx="631" cy="374"/></g><g id="n582"><circle cx="692" cy="357"/></g><g id="n583"><circle cx="717" cy="362"/></g>
<g id="n584"><circle cx="724" cy="357"/></g><g id="n585"><circle cx="739" cy="354"/></g><g id="n586"><circle cx="758" cy="360"/></g>
<g id="n587"><circle cx="714" cy="375"/></g><g id="n588"><circle cx="725" cy="384"/></g><g id="n589"><circle cx="719" cy="391"/></g>
<g id="n590"><circle cx="717" cy="396"/></g><g id="n591"><circle cx="686" cy="384"/></g><g id="n592"><circle cx="691" cy="400"/></g>
<g id="n593"><circle cx="751" cy="392"/></g><g id="n594"><circle cx="511" cy="380"/></g><g id="n595"><circle cx="520" cy="374"/></g>
<g id="n596"><circle cx="526" cy="372"/></g><g id="n597"><circle cx="532" cy="375"/></g><g id="n598"><circle cx="532" cy="387"/></g>
<g id="n599"><circle cx="545" cy="385"/></g><g id="n600"><circle cx="555" cy="387"/></g><g id="n601"><circle cx="560" cy="382"/></g>
<g id="n602"><circle cx="563" cy="377"/></g><g id="n603"><circle cx="567" cy="373"/></g><g id="n604"><circle cx="571" cy="370"/></g>
<g id="n605"><circle cx="576" cy="373"/></g><g id="n606"><circle cx="578" cy="367"/></g><g id="n607"><circle cx="582" cy="371"/></g>
<g id="n608"><circle cx="585" cy="376"/></g><g id="n609"><circle cx="575" cy="383"/></g><g id="n610"><circle cx="567" cy="384"/></g>
<g id="n611"><circle cx="568" cy="391"/></g><g id="n612"><circle cx="565" cy="393"/></g><g id="n613"><circle cx="558" cy="393"/></g>
<g id="n614"><circle cx="558" cy="399"/></g><g id="n615"><circle cx="570" cy="399"/></g><g id="n616"><circle cx="541" cy="395"/></g>
<g id="n617"><circle cx="507" cy="391"/></g><g id="n618"><circle cx="512" cy="392"/></g><g id="n619"><circle cx="508" cy="399"/></g>
<g id="n620"><circle cx="504" cy="404"/></g><g id="n621"><circle cx="518" cy="411"/></g><g id="n622"><circle cx="528" cy="406"/></g>
<g id="n623"><circle cx="534" cy="408"/></g><g id="n624"><circle cx="543" cy="412"/></g><g id="n625"><circle cx="538" cy="417"/></g>
<g id="n626"><circle cx="555" cy="414"/></g><g id="n627"><circle cx="562" cy="411"/></g><g id="n628"><circle cx="575" cy="407"/></g>
<g id="n629"><circle cx="581" cy="409"/></g><g id="n630"><circle cx="588" cy="408"/></g><g id="n631"><circle cx="591" cy="389"/></g>
<g id="n632"><circle cx="595" cy="398"/></g><g id="n633"><circle cx="601" cy="379"/></g><g id="n634"><circle cx="606" cy="386"/></g>
<g id="n635"><circle cx="609" cy="390"/></g><g id="n636"><circle cx="614" cy="385"/></g><g id="n637"><circle cx="578" cy="422"/></g>
<g id="n638"><circle cx="595" cy="426"/></g><g id="n639"><circle cx="511" cy="415"/></g><g id="n640"><circle cx="512" cy="424"/></g>
<g id="n641"><circle cx="503" cy="420"/></g><g id="n642"><circle cx="552" cy="429"/></g><g id="n643"><circle cx="559" cy="427"/></g>
<g id="n644"><circle cx="533" cy="433"/></g><g id="n645"><circle cx="538" cy="433"/></g><g id="n646"><circle cx="541" cy="439"/></g>
<g id="n647"><circle cx="547" cy="436"/></g><g id="n648"><circle cx="562" cy="439"/></g><g id="n649"><circle cx="567" cy="435"/></g>
<g id="n650"><circle cx="572" cy="430"/></g><g id="n651"><circle cx="574" cy="435"/></g><g id="n652"><circle cx="578" cy="436"/></g>
<g id="n653"><circle cx="569" cy="443"/></g><g id="n654"><circle cx="569" cy="449"/></g><g id="n655"><circle cx="562" cy="450"/></g>
<g id="n656"><circle cx="582" cy="454"/></g><g id="n657"><circle cx="574" cy="457"/></g><g id="n658"><circle cx="558" cy="447"/></g>
<g id="n659"><circle cx="549" cy="448"/></g><g id="n660"><circle cx="545" cy="453"/></g><g id="n661"><circle cx="516" cy="442"/></g>
<g id="n662"><circle cx="512" cy="445"/></g><g id="n663"><circle cx="524" cy="447"/></g><g id="n664"><circle cx="556" cy="457"/></g>
<g id="n665"><circle cx="557" cy="463"/></g><g id="n666"><circle cx="550" cy="466"/></g><g id="n667"><circle cx="561" cy="468"/></g>
<g id="n668"><circle cx="534" cy="466"/></g><g id="n669"><circle cx="547" cy="462"/></g><g id="n670"><circle cx="507" cy="464"/></g>
<g id="n671"><circle cx="553" cy="475"/></g><g id="n672"><circle cx="538" cy="477"/></g><g id="n673"><circle cx="543" cy="477"/></g>
<g id="n674"><circle cx="536" cy="482"/></g><g id="n675"><circle cx="543" cy="487"/></g><g id="n676"><circle cx="568" cy="473"/></g>
<g id="n677"><circle cx="578" cy="478"/></g><g id="n678"><circle cx="563" cy="488"/></g><g id="n679"><circle cx="555" cy="497"/></g>
<g id="n680"><circle cx="504" cy="506"/></g><g id="n681"><circle cx="527" cy="529"/></g><g id="n682"><circle cx="508" cy="533"/></g>
<g id="n683"><circle cx="566" cy="521"/></g><g id="n684"><circle cx="561" cy="525"/></g><g id="n685"><circle cx="559" cy="531"/></g>
<g id="n686"><circle cx="566" cy="533"/></g><g id="n687"><circle cx="572" cy="530"/></g><g id="n688"><circle cx="571" cy="535"/></g>
<g id="n689"><circle cx="584" cy="504"/></g><g id="n690"><circle cx="588" cy="517"/></g><g id="n691"><circle cx="603" cy="503"/></g>
<g id="n692"><circle cx="604" cy="514"/></g><g id="n693"><circle cx="614" cy="518"/></g><g id="n694"><circle cx="629" cy="507"/></g>
<g id="n695"><circle cx="634" cy="511"/></g><g id="n696"><circle cx="643" cy="506"/></g><g id="n697"><circle cx="647" cy="517"/></g>
<g id="n698"><circle cx="641" cy="449"/></g><g id="n699"><circle cx="649" cy="454"/></g><g id="n700"><circle cx="630" cy="525"/></g>
<g id="n701"><circle cx="643" cy="533"/></g><g id="n702"><circle cx="637" cy="541"/></g><g id="n703"><circle cx="636" cy="552"/></g>
<g id="n704"><circle cx="633" cy="558"/></g><g id="n705"><circle cx="654" cy="561"/></g><g id="n706"><circle cx="665" cy="551"/></g>
<g id="n707"><circle cx="688" cy="554"/></g><g id="n708"><circle cx="688" cy="521"/></g><g id="n709"><circle cx="698" cy="516"/></g>
<g id="n710"><circle cx="714" cy="524"/></g><g id="n711"><circle cx="687" cy="478"/></g><g id="n712"><circle cx="705" cy="487"/></g>
<g id="n713"><circle cx="710" cy="463"/></g><g id="n714"><circle cx="690" cy="427"/></g><g id="n715"><circle cx="720" cy="453"/></g>
<g id="n716"><circle cx="727" cy="456"/></g><g id="n717"><circle cx="725" cy="478"/></g><g id="n718"><circle cx="726" cy="487"/></g>
<g id="n719"><circle cx="744" cy="494"/></g><g id="n720"><circle cx="746" cy="498"/></g><g id="n721"><circle cx="740" cy="507"/></g>
<g id="n722"><circle cx="745" cy="520"/></g><g id="n723"><circle cx="745" cy="526"/></g><g id="n724"><circle cx="748" cy="539"/></g>
<g id="n725"><circle cx="748" cy="544"/></g><g id="n726"><circle cx="723" cy="547"/></g><g id="n727"><circle cx="721" cy="553"/></g>
<g id="n728"><circle cx="743" cy="558"/></g><g id="n729"><circle cx="703" cy="569"/></g><g id="n730"><circle cx="723" cy="568"/></g>
<g id="n731"><circle cx="728" cy="570"/></g><g id="n732"><circle cx="719" cy="573"/></g><g id="n733"><circle cx="725" cy="573"/></g>
<g id="n734"><circle cx="737" cy="569"/></g><g id="n735"><circle cx="744" cy="587"/></g><g id="n736"><circle cx="757" cy="570"/></g>
<g id="n737"><circle cx="733" cy="428"/></g><g id="n738"><circle cx="743" cy="428"/></g><g id="n739"><circle cx="748" cy="444"/></g>
<g id="n740"><circle cx="757" cy="433"/></g><g id="n741"><circle cx="596" cy="548"/></g><g id="n742"><circle cx="568" cy="551"/></g>
<g id="n743"><circle cx="587" cy="562"/></g><g id="n744"><circle cx="593" cy="561"/></g><g id="n745"><circle cx="553" cy="561"/></g>
<g id="n746"><circle cx="568" cy="569"/></g><g id="n747"><circle cx="570" cy="573"/></g><g id="n748"><circle cx="595" cy="575"/></g>
<g id="n749"><circle cx="600" cy="582"/></g><g id="n750"><circle cx="555" cy="589"/></g><g id="n751"><circle cx="575" cy="591"/></g>
<g id="n752"><circle cx="598" cy="591"/></g><g id="n753"><circle cx="591" cy="597"/></g><g id="n754"><circle cx="597" cy="598"/></g>
<g id="n755"><circle cx="539" cy="595"/></g><g id="n756"><circle cx="513" cy="597"/></g><g id="n757"><circle cx="523" cy="599"/></g>
<g id="n758"><circle cx="558" cy="603"/></g><g id="n759"><circle cx="563" cy="603"/></g><g id="n760"><circle cx="626" cy="592"/></g>
<g id="n761"><circle cx="628" cy="598"/></g><g id="n762"><circle cx="619" cy="603"/></g>
<g id="n763"><circle cx="777" cy="348"/></g><g id="n764"><circle cx="769" cy="341"/></g><g id="n765"><circle cx="792" cy="349"/></g>
<g id="n766"><circle cx="799" cy="344"/></g><g id="n767"><circle cx="802" cy="352"/></g><g id="n768"><circle cx="765" cy="360"/></g>
<g id="n769"><circle cx="770" cy="363"/></g><g id="n770"><circle cx="805" cy="360"/></g><g id="n771"><circle cx="816" cy="363"/></g>
<g id="n772"><circle cx="839" cy="355"/></g><g id="n773"><circle cx="836" cy="361"/></g><g id="n774"><circle cx="850" cy="362"/></g>
<g id="n775" class="r"><circle cx="876" cy="362"/></g><g id="n776" class="r"><circle cx="885" cy="361"/></g><g id="n777" class="r"><circle cx="890" cy="366"/></g>
<g id="n778" class="r"><circle cx="878" cy="376"/></g><g id="n779" class="r"><circle cx="902" cy="398"/></g><g id="n780" class="r"><circle cx="887" cy="403"/></g>
<g id="n781" class="r"><circle cx="866" cy="406"/></g>
<g id="n782"><circle cx="792" cy="381"/></g><g id="n783"><circle cx="829" cy="384"/></g><g id="n784"><circle cx="821" cy="390"/></g>
<g id="n785"><circle cx="814" cy="394"/></g><g id="n786"><circle cx="824" cy="400"/></g><g id="n787"><circle cx="848" cy="400"/></g>
<g id="n788"><circle cx="803" cy="397"/></g><g id="n789"><circle cx="796" cy="406"/></g><g id="n790"><circle cx="838" cy="417"/></g>
<g id="n791"><circle cx="883" cy="421"/></g><g id="n792"><circle cx="892" cy="428"/></g><g id="n793"><circle cx="896" cy="441"/></g>
<g id="n794"><circle cx="762" cy="425"/></g><g id="n795"><circle cx="775" cy="438"/></g><g id="n796"><circle cx="773" cy="447"/></g>
<g id="n797"><circle cx="864" cy="438"/></g><g id="n798"><circle cx="926" cy="438"/></g><g id="n799"><circle cx="842" cy="446"/></g>
<g id="n800"><circle cx="866" cy="453"/></g><g id="n801"><circle cx="904" cy="469"/></g><g id="n802"><circle cx="937" cy="477"/></g>
<g id="n803"><circle cx="837" cy="473"/></g><g id="n804"><circle cx="769" cy="467"/></g><g id="n805"><circle cx="768" cy="475"/></g>
<g id="n806"><circle cx="773" cy="477"/></g><g id="n807"><circle cx="766" cy="481"/></g><g id="n808"><circle cx="897" cy="486"/></g>
<g id="n809"><circle cx="836" cy="486"/></g><g id="n810"><circle cx="832" cy="489"/></g><g id="n811"><circle cx="820" cy="491"/></g>
<g id="n812"><circle cx="858" cy="498"/></g><g id="n813"><circle cx="867" cy="495"/></g><g id="n814"><circle cx="881" cy="494"/></g>
<g id="n815"><circle cx="893" cy="503"/></g><g id="n816"><circle cx="835" cy="503"/></g><g id="n817"><circle cx="789" cy="500"/></g>
<g id="n818"><circle cx="829" cy="514"/></g><g id="n819"><circle cx="842" cy="517"/></g><g id="n820"><circle cx="861" cy="518"/></g>
<g id="n821"><circle cx="797" cy="518"/></g><g id="n822"><circle cx="826" cy="526"/></g><g id="n823"><circle cx="842" cy="526"/></g>
<g id="n824"><circle cx="884" cy="528"/></g><g id="n825"><circle cx="912" cy="527"/></g><g id="n826"><circle cx="939" cy="529"/></g>
<g id="n827"><circle cx="765" cy="531"/></g><g id="n828"><circle cx="854" cy="541"/></g><g id="n829"><circle cx="830" cy="544"/></g>
<g id="n830"><circle cx="866" cy="545"/></g><g id="n831"><circle cx="873" cy="549"/></g><g id="n832"><circle cx="890" cy="537"/></g>
<g id="n833"><circle cx="894" cy="550"/></g><g id="n834"><circle cx="926" cy="541"/></g><g id="n835"><circle cx="961" cy="552"/></g>
<g id="n836"><circle cx="806" cy="556"/></g><g id="n837"><circle cx="786" cy="551"/></g><g id="n838"><circle cx="932" cy="559"/></g>
<g id="n839"><circle cx="870" cy="567"/></g><g id="n840"><circle cx="903" cy="567"/></g><g id="n841"><circle cx="931" cy="572"/></g>
<g id="n842"><circle cx="917" cy="579"/></g><g id="n843"><circle cx="838" cy="586"/></g><g id="n844"><circle cx="864" cy="584"/></g>
<g id="n845"><circle cx="903" cy="583"/></g><g id="n846"><circle cx="908" cy="586"/></g><g id="n847"><circle cx="918" cy="595"/></g>
<g id="n848"><circle cx="900" cy="597"/></g><g id="n849"><circle cx="909" cy="595"/></g><g id="n850"><circle cx="927" cy="592"/></g>
<g id="n851"><circle cx="934" cy="592"/></g><g id="n852"><circle cx="953" cy="592"/></g><g id="n853"><circle cx="951" cy="597"/></g>
<g id="n854"><circle cx="972" cy="600"/></g><g id="n855"><circle cx="977" cy="586"/></g><g id="n856"><circle cx="784" cy="589"/></g>
<g id="n857"><circle cx="809" cy="599"/></g><g id="n858"><circle cx="828" cy="601"/></g><g id="n859"><circle cx="760" cy="570"/></g>
<g id="n860"><circle cx="822" cy="603"/></g><g id="n861"><circle cx="964" cy="604"/></g>
<g id="n862"><circle cx="360" cy="628"/></g><g id="n863"><circle cx="382" cy="627"/></g><g id="n864"><circle cx="393" cy="633"/></g>
<g id="n865"><circle cx="407" cy="627"/></g><g id="n866"><circle cx="430" cy="618"/></g><g id="n867"><circle cx="346" cy="661"/></g>
<g id="n868"><circle cx="420" cy="668"/></g><g id="n869"><circle cx="435" cy="677"/></g><g id="n870"><circle cx="430" cy="684"/></g>
<g id="n871"><circle cx="431" cy="692"/></g><g id="n872"><circle cx="387" cy="694"/></g><g id="n873"><circle cx="447" cy="671"/></g>
<g id="n874"><circle cx="451" cy="675"/></g><g id="n875"><circle cx="458" cy="678"/></g><g id="n876"><circle cx="449" cy="655"/></g>
<g id="n877"><circle cx="458" cy="646"/></g><g id="n878"><circle cx="462" cy="650"/></g><g id="n879"><circle cx="465" cy="636"/></g>
<g id="n880"><circle cx="465" cy="657"/></g><g id="n881"><circle cx="475" cy="618"/></g><g id="n882"><circle cx="487" cy="615"/></g>
<g id="n883"><circle cx="491" cy="607"/></g><g id="n884"><circle cx="489" cy="639"/></g><g id="n885"><circle cx="495" cy="658"/></g>
<g id="n886"><circle cx="480" cy="679"/></g><g id="n887"><circle cx="492" cy="687"/></g><g id="n888"><circle cx="496" cy="693"/></g>
<g id="n889"><circle cx="499" cy="693"/></g><g id="n890"><circle cx="496" cy="701"/></g><g id="n891"><circle cx="463" cy="700"/></g>
<g id="n892"><circle cx="468" cy="699"/></g><g id="n893"><circle cx="491" cy="709"/></g><g id="n894"><circle cx="480" cy="719"/></g>
<g id="n895"><circle cx="455" cy="721"/></g><g id="n896"><circle cx="464" cy="715"/></g><g id="n897"><circle cx="469" cy="717"/></g>
<g id="n898"><circle cx="455" cy="731"/></g><g id="n899"><circle cx="467" cy="735"/></g><g id="n900"><circle cx="465" cy="749"/></g>
<g id="n901"><circle cx="480" cy="749"/></g><g id="n902"><circle cx="394" cy="729"/></g><g id="n903"><circle cx="404" cy="742"/></g>
<g id="n904"><circle cx="439" cy="742"/></g><g id="n905"><circle cx="433" cy="754"/></g><g id="n906"><circle cx="383" cy="756"/></g>
<g id="n907"><circle cx="470" cy="766"/></g><g id="n908"><circle cx="476" cy="768"/></g><g id="n909"><circle cx="487" cy="770"/></g>
<g id="n910"><circle cx="479" cy="775"/></g><g id="n911"><circle cx="490" cy="775"/></g><g id="n912"><circle cx="487" cy="785"/></g>
<g id="n913"><circle cx="497" cy="797"/></g><g id="n914"><circle cx="457" cy="786"/></g><g id="n915"><circle cx="462" cy="782"/></g>
<g id="n916"><circle cx="473" cy="793"/></g><g id="n917"><circle cx="480" cy="810"/></g><g id="n918"><circle cx="493" cy="815"/></g>
<g id="n919"><circle cx="496" cy="822"/></g><g id="n920"><circle cx="473" cy="829"/></g><g id="n921"><circle cx="472" cy="838"/></g>
<g id="n922"><circle cx="477" cy="841"/></g><g id="n923"><circle cx="482" cy="840"/></g><g id="n924"><circle cx="486" cy="849"/></g>
<g id="n925"><circle cx="487" cy="855"/></g>
<g id="n926"><circle cx="407" cy="767"/></g><g id="n927"><circle cx="418" cy="769"/></g><g id="n928"><circle cx="412" cy="776"/></g>
<g id="n929"><circle cx="420" cy="776"/></g><g id="n930"><circle cx="426" cy="778"/></g><g id="n931"><circle cx="431" cy="777"/></g>
<g id="n932"><circle cx="405" cy="782"/></g><g id="n933"><circle cx="410" cy="780"/></g><g id="n934"><circle cx="432" cy="784"/></g>
<g id="n935"><circle cx="420" cy="785"/></g><g id="n936"><circle cx="425" cy="791"/></g><g id="n937"><circle cx="431" cy="794"/></g>
<g id="n938"><circle cx="421" cy="796"/></g><g id="n939"><circle cx="407" cy="798"/></g><g id="n940"><circle cx="424" cy="799"/></g>
<g id="n941"><circle cx="405" cy="804"/></g><g id="n942"><circle cx="413" cy="804"/></g>
<g id="n943"><circle cx="503" cy="620"/></g><g id="n944"><circle cx="545" cy="624"/></g><g id="n945"><circle cx="587" cy="613"/></g>
<g id="n946"><circle cx="529" cy="646"/></g><g id="n947"><circle cx="550" cy="647"/></g><g id="n948"><circle cx="503" cy="646"/></g>
<g id="n949"><circle cx="533" cy="671"/></g><g id="n950"><circle cx="520" cy="694"/></g><g id="n951"><circle cx="501" cy="692"/></g>
<g id="n952"><circle cx="504" cy="712"/></g><g id="n953"><circle cx="570" cy="678"/></g><g id="n954"><circle cx="576" cy="679"/></g>
<g id="n955"><circle cx="544" cy="718"/></g><g id="n956"><circle cx="555" cy="722"/></g><g id="n957"><circle cx="595" cy="733"/></g>
<g id="n958"><circle cx="610" cy="739"/></g><g id="n959"><circle cx="653" cy="615"/></g><g id="n960"><circle cx="650" cy="630"/></g>
<g id="n961"><circle cx="674" cy="623"/></g><g id="n962"><circle cx="675" cy="633"/></g><g id="n963"><circle cx="682" cy="637"/></g>
<g id="n964"><circle cx="712" cy="633"/></g><g id="n965"><circle cx="693" cy="669"/></g><g id="n966"><circle cx="728" cy="670"/></g>
<g id="n967"><circle cx="636" cy="692"/></g><g id="n968"><circle cx="641" cy="696"/></g><g id="n969"><circle cx="662" cy="709"/></g>
<g id="n970"><circle cx="701" cy="711"/></g><g id="n971"><circle cx="732" cy="699"/></g><g id="n972"><circle cx="756" cy="711"/></g>
<g id="n973"><circle cx="688" cy="729"/></g><g id="n974"><circle cx="716" cy="740"/></g><g id="n975"><circle cx="693" cy="749"/></g>
<g id="n976"><circle cx="709" cy="749"/></g><g id="n977"><circle cx="714" cy="754"/></g><g id="n978"><circle cx="733" cy="749"/></g>
<g id="n979"><circle cx="703" cy="768"/></g><g id="n980"><circle cx="729" cy="777"/></g><g id="n981"><circle cx="669" cy="782"/></g>
<g id="n982"><circle cx="678" cy="791"/></g><g id="n983"><circle cx="663" cy="796"/></g><g id="n984"><circle cx="598" cy="783"/></g>
<g id="n985"><circle cx="583" cy="813"/></g><g id="n986"><circle cx="516" cy="806"/></g><g id="n987"><circle cx="501" cy="823"/></g>
<g id="n988"><circle cx="506" cy="831"/></g><g id="n989"><circle cx="737" cy="618"/></g><g id="n990"><circle cx="745" cy="615"/></g>
<g id="n991"><circle cx="782" cy="605"/></g><g id="n992"><circle cx="792" cy="618"/></g><g id="n993"><circle cx="802" cy="610"/></g>
<g id="n994"><circle cx="808" cy="618"/></g><g id="n995"><circle cx="815" cy="607"/></g><g id="n996"><circle cx="824" cy="614"/></g>
<g id="n997"><circle cx="834" cy="611"/></g><g id="n998"><circle cx="845" cy="609"/></g><g id="n999"><circle cx="771" cy="622"/></g>
<g id="n1000"><circle cx="763" cy="627"/></g><g id="n1001"><circle cx="777" cy="630"/></g><g id="n1002"><circle cx="804" cy="630"/></g>
<g id="n1003"><circle cx="811" cy="632"/></g><g id="n1004"><circle cx="792" cy="636"/></g><g id="n1005"><circle cx="825" cy="635"/></g>
<g id="n1006"><circle cx="830" cy="636"/></g><g id="n1007"><circle cx="795" cy="642"/></g><g id="n1008"><circle cx="763" cy="663"/></g>
<g id="n1009"><circle cx="795" cy="661"/></g><g id="n1010"><circle cx="819" cy="663"/></g><g id="n1011"><circle cx="813" cy="671"/></g>
<g id="n1012"><circle cx="773" cy="686"/></g><g id="n1013"><circle cx="801" cy="701"/></g><g id="n1014"><circle cx="886" cy="611"/></g>
<g id="n1015"><circle cx="883" cy="616"/></g><g id="n1016"><circle cx="898" cy="612"/></g><g id="n1017"><circle cx="917" cy="608"/></g>
<g id="n1018"><circle cx="943" cy="615"/></g><g id="n1019"><circle cx="953" cy="621"/></g><g id="n1020"><circle cx="1005" cy="608"/></g>
</g>
</svg>
